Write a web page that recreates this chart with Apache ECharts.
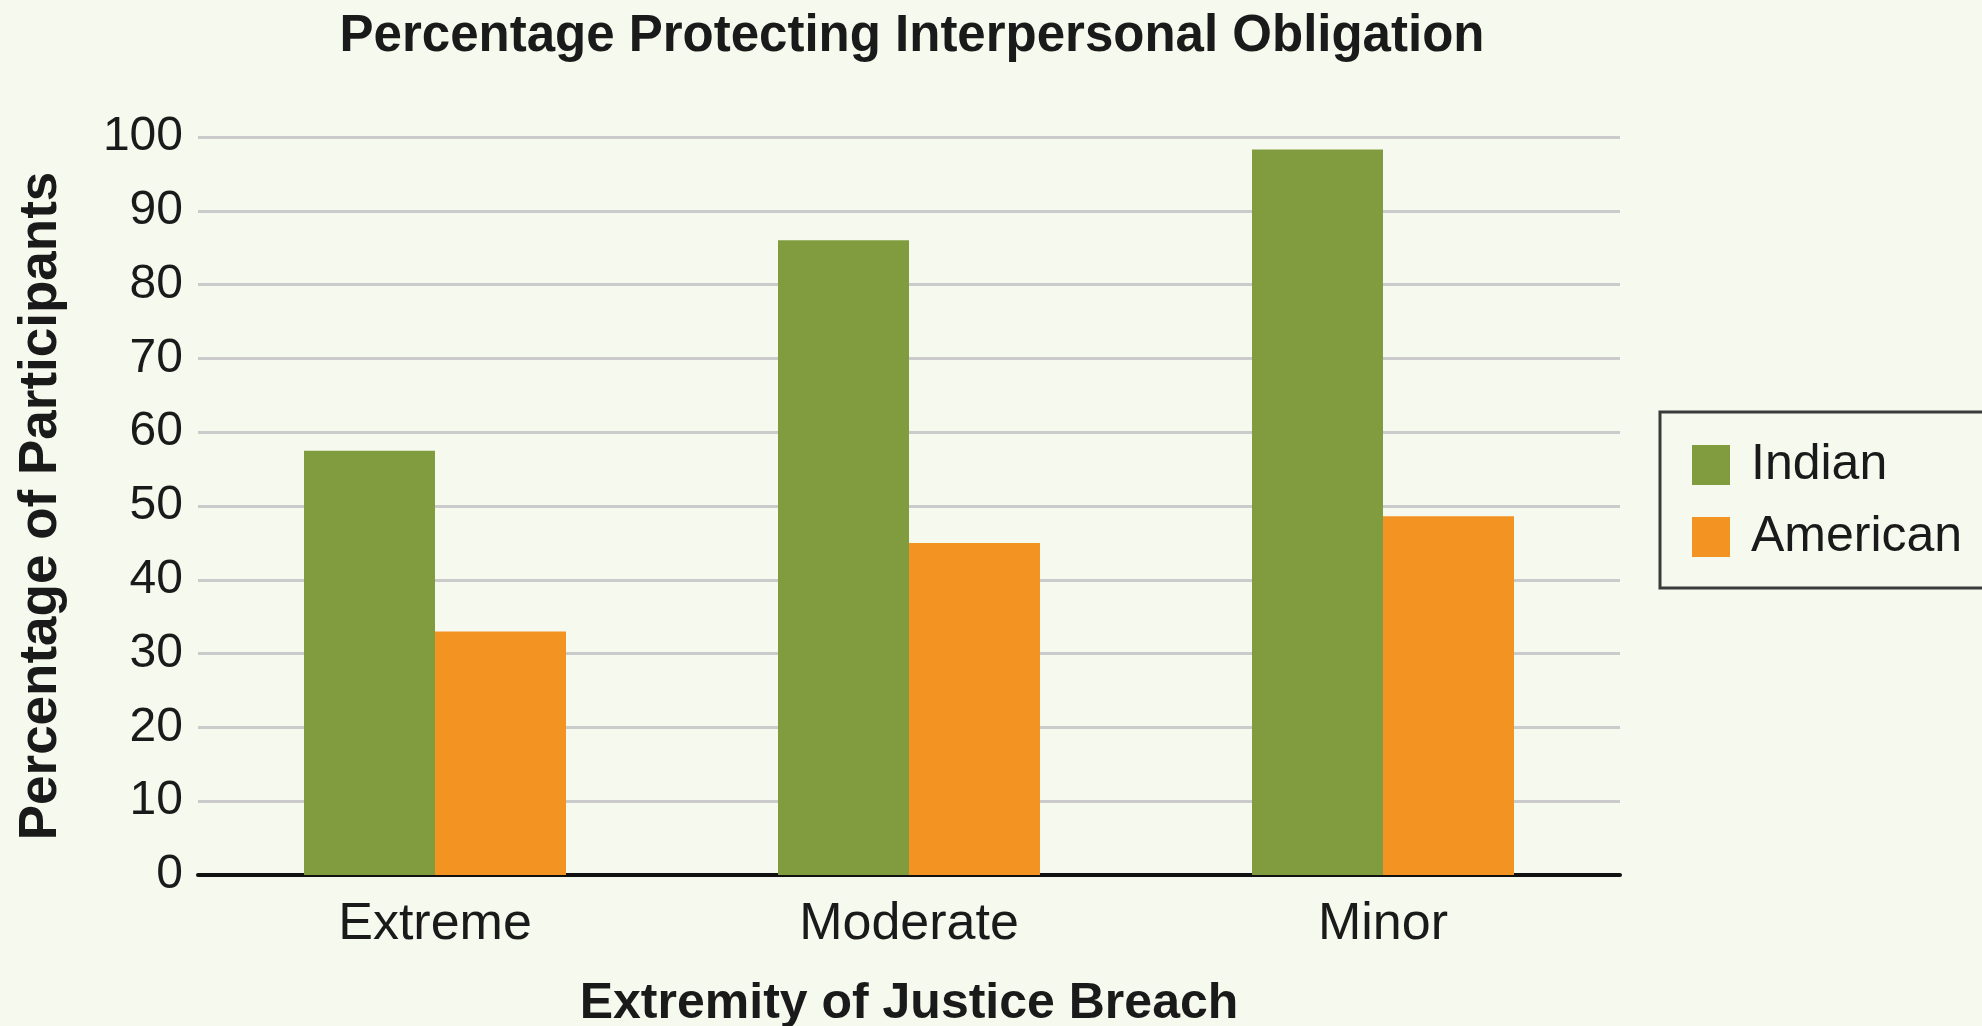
<!DOCTYPE html>
<html>
<head>
<meta charset="utf-8">
<script src="https://cdn.jsdelivr.net/npm/echarts@6/dist/echarts.min.js"></script>
<style>
  html, body { margin: 0; padding: 0; background: #f6f9ee; }
  #main { width: 1982px; height: 1026px; }
</style>
</head>
<body>
<div id="main"></div>
<script>
var categories = ['Extreme', 'Moderate', 'Minor'];
var indian = [57.5, 86, 98.3];
var american = [33, 45, 48.6];
var yTicks = [0, 100, 10]; // min, max, interval

var myChart = echarts.init(document.getElementById('main'));
var font = 'Liberation Sans, Arial, sans-serif';

var option = {
    backgroundColor: '#f6f9ee',
    textStyle: { fontFamily: font },
    title: {
        text: 'Percentage Protecting Interpersonal Obligation',
        left: 907,
        top: 6,
        textAlign: 'center',
        textStyle: { fontSize: 51, fontWeight: 'bold', color: '#1a1a1a', fontFamily: font }
    },
    legend: {
        orient: 'vertical',
        left: 1660,
        top: 412,
        padding: [28, 40, 26, 32],
        itemWidth: 38,
        itemHeight: 40,
        itemGap: 22,
        icon: 'rect',
        itemStyle: { borderWidth: 0 },
        borderColor: '#3a3a3a',
        borderWidth: 3,
        textStyle: { fontSize: 50, color: '#1a1a1a', padding: [0, 0, 0, 16] },
        data: ['Indian', 'American']
    },
    grid: {
        left: 198, right: 362, top: 137, bottom: 151,
        outerBoundsMode: 'none'
    },
    xAxis: {
        type: 'category',
        data: categories,
        name: 'Extremity of Justice Breach',
        nameLocation: 'middle',
        nameGap: 104,
        nameTextStyle: { fontSize: 50, fontWeight: 'bold', color: '#1a1a1a' },
        axisLine: { lineStyle: { color: '#111', width: 4 } },
        axisTick: { show: false },
        axisLabel: { fontSize: 52, color: '#1a1a1a', margin: 24 }
    },
    yAxis: {
        type: 'value',
        min: yTicks[0],
        max: yTicks[1],
        interval: yTicks[2],
        name: 'Percentage of Participants',
        nameLocation: 'middle',
        nameGap: 130,
        nameTextStyle: { fontSize: 53, fontWeight: 'bold', color: '#1a1a1a' },
        axisLine: { show: false },
        axisTick: { show: false },
        axisLabel: { fontSize: 48, color: '#1a1a1a', margin: 15 },
        splitLine: { lineStyle: { color: '#cbcbcb', width: 3 } }
    },
    series: [
        {
            name: 'Indian',
            type: 'bar',
            data: indian,
            barWidth: 131,
            barGap: '0%',
            itemStyle: { color: '#819c3e' }
        },
        {
            name: 'American',
            type: 'bar',
            data: american,
            barWidth: 131,
            barGap: '0%',
            itemStyle: { color: '#f39322' }
        }
    ]
};

myChart.setOption(option);
window.addEventListener('resize', function () {
    myChart.resize();
});
</script>
</body>
</html>
